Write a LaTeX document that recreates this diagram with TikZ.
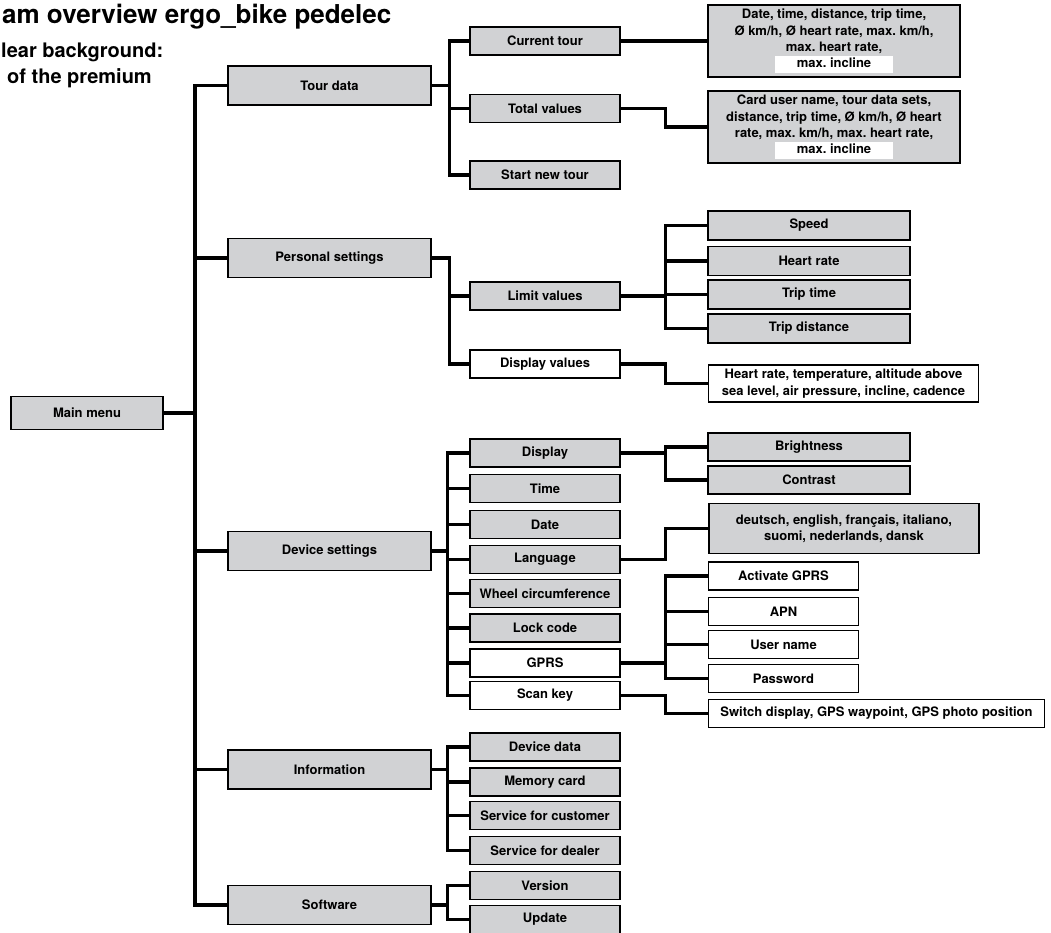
\documentclass[tikz,border=0pt]{standalone}
\usepackage{fontspec}
\setmainfont{TeX Gyre Heros}
\usepackage{tikz}
\definecolor{boxgray}{RGB}{209,210,212}
\newcommand{\whitebar}[1]{{\setlength{\fboxsep}{0pt}\colorbox{white}{\makebox[118pt]{\strut #1}}}}
\frenchspacing

\begin{document}
\begin{tikzpicture}[x=1pt,y=-1pt,
  box/.style={draw=black,line width=1.1pt,inner sep=0pt,align=center,
    font=\fontsize{13}{16.3}\selectfont\bfseries},
  gbox/.style={box,fill=boxgray},
  wbox/.style={box,fill=white},
  menu/.style={minimum width=203,minimum height=39},
  sub/.style={minimum width=150,minimum height=28},
  link/.style={line width=3.3pt}]
\useasboundingbox (0,0) rectangle (1051,932);

\node[anchor=base west,inner sep=0,font=\fontsize{26}{30}\selectfont\bfseries] (title) at (2,23) {am overview ergo\_bike pedelec};
\node[anchor=base west,inner sep=0,font=\fontsize{20}{26}\selectfont\bfseries] (note1) at (1,57) {lear background:};
\node[anchor=base west,inner sep=0,font=\fontsize{20}{26}\selectfont\bfseries] (note2) at (7,83) {of the premium};

\node[gbox,minimum width=152,minimum height=33] (main) at (87,413) {Main menu};

\node[gbox,menu] (tour) at (329.5,85.5) {Tour data};
\node[gbox,menu] (pers) at (329.5,258) {Personal settings};
\node[gbox,menu] (dev) at (329.5,551) {Device settings};
\node[gbox,menu] (info) at (329.5,769.5) {Information};
\node[gbox,menu] (soft) at (329.5,905) {Software};

\node[gbox,sub] (cur) at (545,41) {Current tour};
\node[gbox,sub] (tot) at (545,108.5) {Total values};
\node[gbox,sub] (new) at (545,175) {Start new tour};
\node[gbox,sub] (lim) at (545,296) {Limit values};
\node[wbox,sub] (dval) at (545,364) {Display values};
\node[gbox,sub] (disp) at (545,453) {Display};
\node[gbox,sub] (time) at (545,488.5) {Time};
\node[gbox,sub] (date) at (545,524.5) {Date};
\node[gbox,sub] (lang) at (545,559.5) {Language};
\node[gbox,sub] (wheel) at (545,593.5) {Wheel circumference};
\node[gbox,sub] (lock) at (545,628) {Lock code};
\node[wbox,sub] (gprs) at (545,663) {GPRS};
\node[wbox,sub] (scan) at (545,695.5) {Scan key};
\node[gbox,sub] (ddata) at (545,747) {Device data};
\node[gbox,sub] (mcard) at (545,782) {Memory card};
\node[gbox,sub] (scust) at (545,815.5) {Service for customer};
\node[gbox,sub] (sdeal) at (545,850.5) {Service for dealer};
\node[gbox,sub] (vers) at (545,885.5) {Version};
\node[gbox,sub] (upd) at (545,919.5) {Update};

\node[gbox,minimum width=252,minimum height=72] (curdata) at (834,41) {Date, time, distance, trip time,\\ Ø km/h, Ø heart rate, max. km/h,\\ max. heart rate,\\ \whitebar{max. incline}};
\node[gbox,minimum width=252,minimum height=72] (totdata) at (834,127) {Card user name, tour data sets,\\ distance, trip time, Ø km/h, Ø heart\\ rate, max. km/h, max. heart rate,\\ \whitebar{max. incline}};
\node[gbox,minimum width=202,minimum height=29] (speed) at (809,225.5) {Speed};
\node[gbox,minimum width=202,minimum height=29] (heart) at (809,261) {Heart rate};
\node[gbox,minimum width=202,minimum height=29] (ttime) at (809,294.5) {Trip time};
\node[gbox,minimum width=202,minimum height=29] (tdist) at (809,328.5) {Trip distance};
\node[wbox,minimum width=270,minimum height=37] (dvlist) at (843.5,383.5) {Heart rate, temperature, altitude above\\ sea level, air pressure, incline, cadence};
\node[gbox,minimum width=202,minimum height=28] (bright) at (809,447) {Brightness};
\node[gbox,minimum width=202,minimum height=28] (contr) at (809,480) {Contrast};
\node[gbox,minimum width=270,minimum height=50] (langs) at (844,528.5) {deutsch, english, français, italiano,\\ suomi, nederlands, dansk};
\node[wbox,minimum width=150,minimum height=28] (act) at (783.5,576) {Activate GPRS};
\node[wbox,minimum width=150,minimum height=28] (apn) at (783.5,611.5) {APN};
\node[wbox,minimum width=150,minimum height=28] (user) at (783.5,644.5) {User name};
\node[wbox,minimum width=150,minimum height=28] (pass) at (783.5,678.5) {Password};
\node[wbox,minimum width=336,minimum height=28] (skeys) at (876.5,713.5) {Switch display, GPS waypoint, GPS photo position};

% main trunk
\coordinate (trunk) at (195,0);
\draw[link] (main.east) -- (main.east -| trunk);
\draw[link] (tour.west) -| (soft.west -| trunk) -- (soft.west);
\draw[link] (pers.west) -- (pers.west -| trunk);
\draw[link] (dev.west) -- (dev.west -| trunk);
\draw[link] (info.west) -- (info.west -| trunk);

\draw[link] (tour.east) -- ++(18,0) |- (cur.west);
\draw[link] (tour.east) -- ++(18,0) |- (tot.west);
\draw[link] (tour.east) -- ++(18,0) |- (new.west);
\draw[link] (cur.east) -- (cur.east -| curdata.west);
\draw[link] (tot.east) -- ++(45,0) |- (totdata.west);

\draw[link] (pers.east) -- ++(18,0) |- (lim.west);
\draw[link] (pers.east) -- ++(18,0) |- (dval.west);
\draw[link] (lim.east) -- ++(45,0) |- (speed.west);
\draw[link] (lim.east) -- ++(45,0) |- (heart.west);
\draw[link] (lim.east) -- ++(45,0) |- (ttime.west);
\draw[link] (lim.east) -- ++(45,0) |- (tdist.west);
\draw[link] (dval.east) -- ++(45,0) |- (dvlist.west);

\draw[link] (dev.east) -- ++(16,0) |- (disp.west);
\draw[link] (dev.east) -- ++(16,0) |- (time.west);
\draw[link] (dev.east) -- ++(16,0) |- (date.west);
\draw[link] (dev.east) -- ++(16,0) |- (lang.west);
\draw[link] (dev.east) -- ++(16,0) |- (wheel.west);
\draw[link] (dev.east) -- ++(16,0) |- (lock.west);
\draw[link] (dev.east) -- ++(16,0) |- (gprs.west);
\draw[link] (dev.east) -- ++(16,0) |- (scan.west);
\draw[link] (disp.east) -- ++(45,0) |- (bright.west);
\draw[link] (disp.east) -- ++(45,0) |- (contr.west);
\draw[link] (lang.east) -- ++(45,0) |- (langs.west);
\draw[link] (gprs.east) -- ++(45,0) |- (act.west);
\draw[link] (gprs.east) -- ++(45,0) |- (apn.west);
\draw[link] (gprs.east) -- ++(45,0) |- (user.west);
\draw[link] (gprs.east) -- ++(45,0) |- (pass.west);
\draw[link] (scan.east) -- ++(45,0) |- (skeys.west);

\draw[link] (info.east) -- ++(16,0) |- (ddata.west);
\draw[link] (info.east) -- ++(16,0) |- (mcard.west);
\draw[link] (info.east) -- ++(16,0) |- (scust.west);
\draw[link] (info.east) -- ++(16,0) |- (sdeal.west);
\draw[link] (soft.east) -- ++(16,0) |- (vers.west);
\draw[link] (soft.east) -- ++(16,0) |- (upd.west);

\end{tikzpicture}
\end{document}
